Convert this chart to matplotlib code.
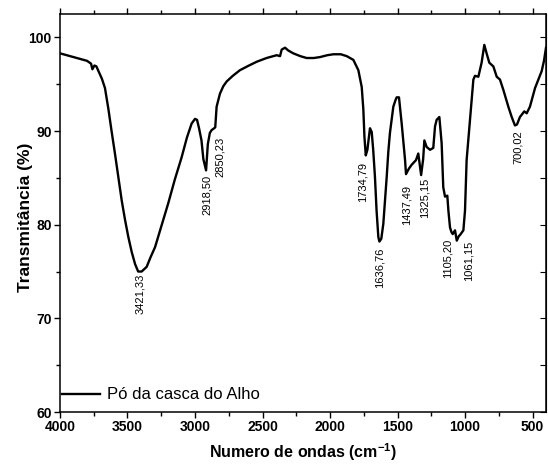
import matplotlib
matplotlib.use("Agg")
import matplotlib.pyplot as plt
from matplotlib.ticker import MultipleLocator

plt.rcParams['font.family'] = ['Liberation Sans', 'DejaVu Sans']
plt.rcParams['mathtext.fontset'] = 'custom'
plt.rcParams['mathtext.rm'] = 'Liberation Sans:bold'
plt.rcParams['mathtext.bf'] = 'Liberation Sans:bold'

# ─── Data ─────────────────────────────────────────────────────────────────────
wavenumber = [
    4000, 3950, 3900, 3850, 3800, 3770, 3760, 3745, 3730, 3715, 3690, 3667,
    3642, 3618, 3593, 3568, 3543, 3518, 3494, 3469, 3444, 3421, 3395, 3358,
    3330, 3296, 3250, 3198, 3150, 3099, 3060, 3025, 3000, 2985, 2970, 2952,
    2938, 2930, 2918, 2905, 2890, 2877, 2858, 2850, 2840, 2815, 2790, 2765,
    2720, 2667, 2600, 2543, 2470, 2395, 2370, 2358, 2333, 2309, 2272, 2220,
    2173, 2120, 2074, 2020, 1975, 1920, 1876, 1827, 1790, 1765, 1753, 1745,
    1735, 1723, 1704, 1691, 1680, 1667, 1655, 1642, 1634, 1620, 1605, 1593,
    1580, 1568, 1556, 1531, 1515, 1506, 1489, 1469, 1444, 1437, 1415, 1395,
    1363, 1346, 1333, 1325, 1310, 1301, 1284, 1259, 1235, 1222, 1210, 1190,
    1173, 1161, 1148, 1131, 1123, 1111, 1100, 1091, 1074, 1061, 1045, 1037,
    1012, 1000, 988, 963, 938, 926, 901, 877, 857, 840, 820, 790, 765, 741,
    716, 679, 654, 630, 615, 593, 561, 543, 519, 481, 432, 415, 400,
]
transmittance = [
    98.3, 98.1, 97.9, 97.7, 97.5, 97.2, 96.6, 97.0, 96.9, 96.4, 95.6, 94.6,
    92.4, 90.0, 87.6, 85.1, 82.6, 80.5, 78.7, 77.1, 75.8, 75.0, 75.0, 75.5,
    76.5, 77.6, 79.8, 82.3, 84.8, 87.2, 89.3, 90.8, 91.3, 91.2, 90.3, 89.0,
    87.0, 86.5, 85.8, 88.6, 89.8, 90.1, 90.3, 90.4, 92.6, 94.0, 94.8, 95.3,
    95.9, 96.5, 97.0, 97.4, 97.8, 98.1, 98.0, 98.7, 98.9, 98.6, 98.3, 98.0,
    97.8, 97.8, 97.9, 98.1, 98.2, 98.2, 98.0, 97.6, 96.5, 94.7, 92.3, 89.4,
    87.4, 88.0, 90.3, 89.9, 88.0, 85.1, 81.5, 78.7, 78.2, 78.5, 80.1, 82.5,
    85.1, 87.8, 89.8, 92.6, 93.3, 93.6, 93.6, 90.8, 86.9, 85.4, 86.0, 86.4,
    86.9, 87.6, 86.2, 85.3, 87.0, 89.0, 88.3, 88.0, 88.2, 90.5, 91.2, 91.5,
    88.7, 84.0, 83.0, 83.1, 81.5, 79.7, 79.2, 79.0, 79.4, 78.3, 78.8, 78.9,
    79.4, 81.5, 86.9, 91.2, 95.5, 95.9, 95.8, 97.3, 99.2, 98.3, 97.3, 96.9,
    95.8, 95.5, 94.4, 92.6, 91.5, 90.6, 90.7, 91.5, 92.1, 91.9, 92.6, 94.6,
    96.4, 97.5, 98.9,
]

# peak labels: text, x, y (top of the rotated label)
peak_text = ["3421,33", "2918,50", "2850,23", "1734,79", "1636,76",
             "1437,49", "1325,15", "1105,20", "1061,15", "700,02"]
peak_x = [3408, 2915, 2812, 1757, 1634, 1436, 1301, 1129, 973, 611]
peak_y = [74.8, 85.3, 89.4, 86.7, 77.6, 84.2, 85.0, 78.5, 78.3, 90.1]

# ─── Plot ─────────────────────────────────────────────────────────────────────
fig = plt.figure(figsize=(5.48, 4.74), dpi=100)
ax = fig.add_axes([60/548, 1 - 412/474, 486/548, 398/474])

ax.plot(wavenumber, transmittance, color="black", lw=1.7,
        label="Pó da casca do Alho")

for t, x, y in zip(peak_text, peak_x, peak_y):
    ax.text(x, y, t, rotation=90, ha="center", va="top", fontsize=8)

ax.set_xlim(4000, 400)
ax.set_ylim(60, 102.5)
ax.xaxis.set_major_locator(MultipleLocator(500))
ax.xaxis.set_minor_locator(MultipleLocator(250))
ax.yaxis.set_major_locator(MultipleLocator(10))
ax.yaxis.set_minor_locator(MultipleLocator(5))

ax.tick_params(which="both", direction="out", width=1, top=True, right=False)
ax.tick_params(which="major", length=4)
ax.tick_params(which="minor", length=3)
ax.tick_params(axis="both", which="major", pad=2, labelsize=10)
for lab in ax.get_xticklabels() + ax.get_yticklabels():
    lab.set_fontweight("bold")
ax.tick_params(axis="x", which="both", labeltop=False)
ax.secondary_yaxis("right").tick_params(which="both", direction="in",
                                          labelright=False, length=4)
for s in ax.spines.values():
    s.set_linewidth(1.1)

ax.set_xlabel("Numero de ondas (cm$^{-1}$)", fontsize=11.5,
              fontweight="bold")
ax.set_ylabel("Transmitância (%)", fontsize=12.5, fontweight="bold")
ax.xaxis.set_label_coords(0.5, -0.073)
ax.yaxis.set_label_coords(-0.056, 0.49)

ax.legend(loc="center left", bbox_to_anchor=(0.004, 0.043), frameon=False,
          borderpad=0, borderaxespad=0, handlelength=2.3, handletextpad=0.4,
          fontsize=12)

plt.savefig("out.png", dpi=100)
plt.close()
